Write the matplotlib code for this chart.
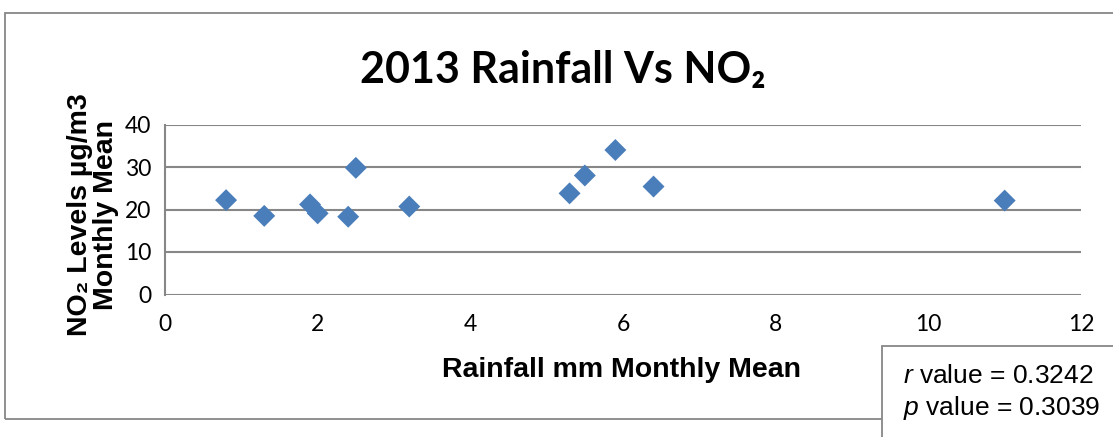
import matplotlib
matplotlib.use("Agg")
import matplotlib.pyplot as plt
from matplotlib.patches import Rectangle

plt.rcParams["mathtext.fontset"] = "custom"
plt.rcParams["mathtext.it"] = "Liberation Sans:italic"
plt.rcParams["mathtext.rm"] = "Liberation Sans"

# Monthly means for 2013
rainfall_mm = [0.8, 1.3, 1.9, 2.0, 2.4, 2.5, 3.2, 5.3, 5.5, 5.9, 6.4, 11.0]
no2_levels = [22.2, 18.5, 21.2, 19.1, 18.3, 29.8, 20.7, 23.8, 28.0, 34.0, 25.4, 22.1]

x_ticks = [0, 2, 4, 6, 8, 10, 12]
y_ticks = [0, 10, 20, 30, 40]

r_value = "0.3242"
p_value = "0.3039"

W, H = 1113, 437
fig = plt.figure(figsize=(W / 100, H / 100), dpi=100)
fig.patch.set_facecolor("white")

grey = "#878787"

# outer chart frame
fig.patches.append(Rectangle((5 / W, (H - 419) / H), 1.2, (419 - 13) / H,
                             transform=fig.transFigure, fill=False,
                             edgecolor=grey, linewidth=1.3, zorder=0))

ax = fig.add_axes([165 / W, (H - 294.5) / H, (1081 - 165) / W, (294.5 - 124.5) / H])
ax.scatter(rainfall_mm, no2_levels, marker="D", s=125, color="#4A7EBB",
           edgecolors="none", zorder=3)

ax.set_xlim(0, 12)
ax.set_ylim(0, 40)
ax.set_xticks(x_ticks)
ax.set_yticks(y_ticks)
ax.set_xticklabels([str(t) for t in x_ticks], family="Lato", fontsize=16.5)
ax.set_yticklabels([str(t) for t in y_ticks], family="Lato", fontsize=16.5)
ax.tick_params(length=0)
ax.tick_params(axis="y", pad=10)
ax.tick_params(axis="x", pad=14)
ax.grid(axis="y", color=grey, linewidth=1.5)
ax.set_axisbelow(True)
for side in ("top", "right", "bottom"):
    ax.spines[side].set_visible(False)
ax.spines["left"].set_color(grey)
ax.spines["left"].set_linewidth(1.5)

fig.text(563 / W, (H - 70) / H, "2013 Rainfall Vs NO₂", family=["Lato", "DejaVu Sans"],
         fontweight="bold", fontsize=31, ha="center", va="center")

fig.text(622 / W, (H - 370) / H, "Rainfall mm Monthly Mean",
         family=["Liberation Sans", "DejaVu Sans"], fontweight="bold", fontsize=20.5,
         ha="center", va="center")

fig.text(93 / W, (H - 215) / H, "NO₂ Levels µg/m3\nMonthly Mean",
         family=["Liberation Sans", "DejaVu Sans"], fontweight="bold", fontsize=20.5,
         ha="center", va="center", rotation=90, multialignment="center",
         linespacing=1.0)

# statistics box
fig.patches.append(Rectangle((882 / W, -0.1), 1.0, (H - 346) / H + 0.1,
                             transform=fig.transFigure, facecolor="white",
                             edgecolor=grey, linewidth=1.3, zorder=5))
fig.text(903 / W, (H - 376) / H, r"$\mathit{r}$ value = " + r_value,
         family="Liberation Sans", fontsize=19, ha="left", va="center", zorder=6)
fig.text(903 / W, (H - 408) / H, r"$\mathit{p}$ value = " + p_value,
         family="Liberation Sans", fontsize=19, ha="left", va="center", zorder=6)

fig.savefig("out.png", dpi=100)
